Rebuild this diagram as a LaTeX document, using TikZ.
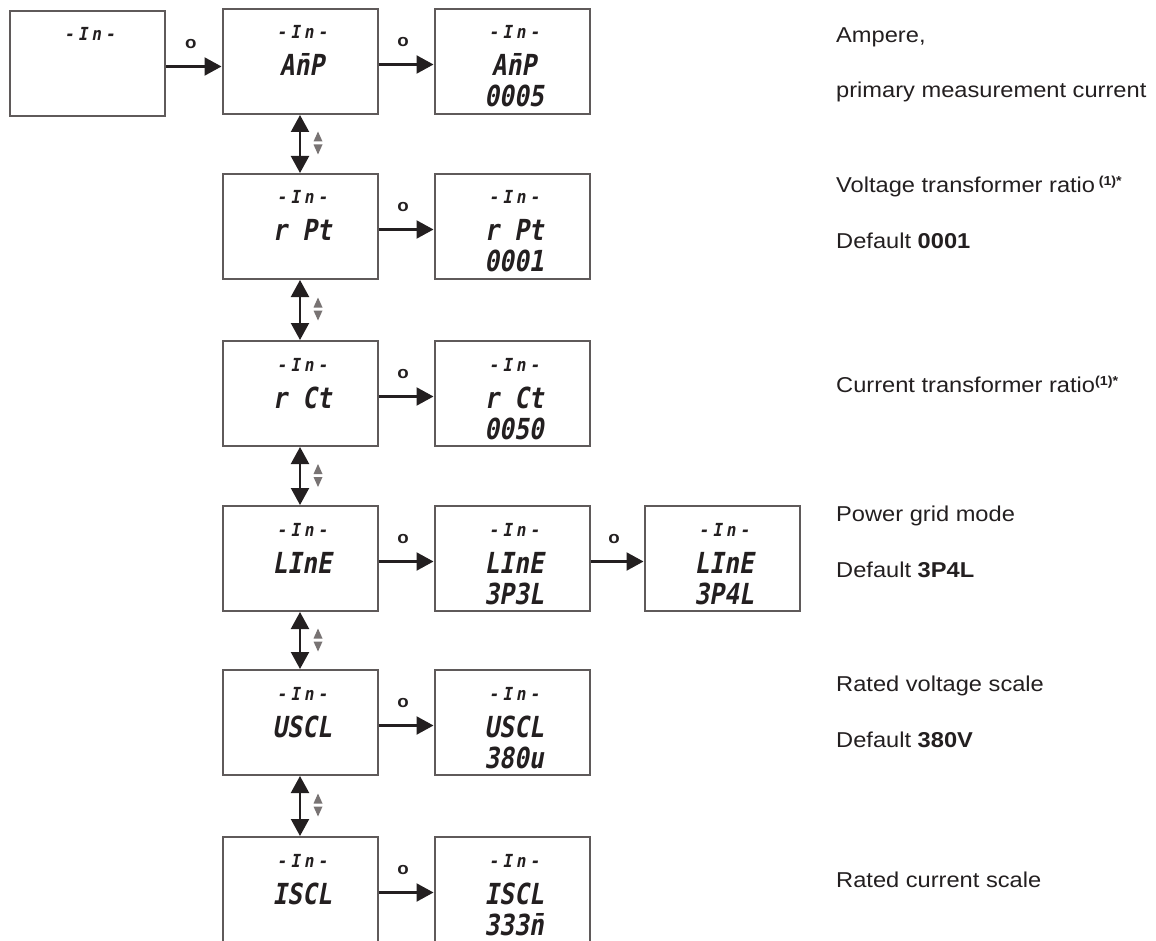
\documentclass[tikz,border=0pt]{standalone}
\usepackage{fontspec}
\setmainfont{Liberation Sans}[FakeStretch=1.1]
\newfontfamily\lcdfont{DejaVu Sans Mono Bold}[FakeSlant=0.18,FakeStretch=0.85]
\newfontfamily\lcdsmallfont{DejaVu Sans Mono Bold}[FakeSlant=0.18,FakeStretch=0.9,LetterSpace=22]
\usetikzlibrary{arrows.meta}
\definecolor{framegray}{RGB}{95,90,90}
\definecolor{ink}{RGB}{35,31,32}
\definecolor{trigray}{RGB}{120,115,115}
\tikzset{
  lcdframe/.style={draw=framegray, line width=2pt, minimum width=155pt, minimum height=105pt, inner sep=0pt, anchor=north},
  lcdsm/.style={inner sep=0pt, anchor=base, text=ink, font=\lcdsmallfont\fontsize{18}{18}\selectfont},
  lcdbig/.style={inner sep=0pt, anchor=base, text=ink, font=\lcdfont\fontsize{29}{29}\selectfont},
  arr/.style={draw=ink, line width=2.2pt, -{Triangle[length=17pt,width=18pt]}},
  darr/.style={draw=ink, line width=2.2pt, {Triangle[length=17pt,width=18pt]}-{Triangle[length=17pt,width=18pt]}},
  olab/.style={midway, xshift=-3pt, yshift=22pt, inner sep=0pt, text=ink, font=\bfseries\fontsize{17}{17}\selectfont},
  desc/.style={anchor=base west, inner sep=0pt, text=ink, font=\fontsize{21.5}{25}\selectfont},
}
\newcommand\lcdone[4]{%
  \node[lcdframe] (#1) at (#2,#3) {};
  \node[lcdsm] (#1a) at ([xshift=2pt,yshift=-31pt]#1.north) {#4};}
\newcommand\lcdtwo[5]{%
  \lcdone{#1}{#2}{#3}{#4}
  \node[lcdbig] (#1b) at ([xshift=2pt,yshift=-68pt]#1.north) {#5};}
\newcommand\lcdthree[6]{%
  \lcdtwo{#1}{#2}{#3}{#4}{#5}
  \node[lcdbig] (#1c) at ([xshift=2pt,yshift=-99pt]#1.north) {#6};}
\newcommand\updown[2]{%
  \fill[trigray] (#1-4.5,#2-1.5) -- (#1+4.5,#2-1.5) -- (#1,#2-11.5) -- cycle;
  \fill[trigray] (#1-4.5,#2+1.5) -- (#1+4.5,#2+1.5) -- (#1,#2+11.5) -- cycle;}
\newcommand\harrow[3]{%
  \coordinate (#3) at ([yshift=-3pt]#1.east);
  \draw[arr] (#3) -- (#3 -| #2.west) node[olab] (#3o) {o};}
\begin{document}
\begin{tikzpicture}[x=1pt,y=-1pt]
\useasboundingbox (0,0) rectangle (1156,941);
% row 1
\lcdone{b11}{87.5}{10}{-In-}
\lcdtwo{b12}{300}{8}{-In-}{A\=nP}
\lcdthree{b13}{512}{8}{-In-}{A\=nP}{0005}
% row 2
\lcdtwo{b21}{300}{173}{-In-}{r Pt}
\lcdthree{b22}{512}{173}{-In-}{r Pt}{0001}
% row 3
\lcdtwo{b31}{300}{340}{-In-}{r Ct}
\lcdthree{b32}{512}{340}{-In-}{r Ct}{0050}
% row 4
\lcdtwo{b41}{300}{505}{-In-}{LInE}
\lcdthree{b42}{512}{505}{-In-}{LInE}{3P3L}
\lcdthree{b43}{722}{505}{-In-}{LInE}{3P4L}
% row 5
\lcdtwo{b51}{300}{669}{-In-}{USCL}
\lcdthree{b52}{512}{669}{-In-}{USCL}{380u}
% row 6
\lcdtwo{b61}{300}{836}{-In-}{ISCL}
\lcdthree{b62}{512}{836}{-In-}{ISCL}{333\=n}
% horizontal arrows
\harrow{b11}{b12}{h1}
\harrow{b12}{b13}{h2}
\harrow{b21}{b22}{h3}
\harrow{b31}{b32}{h4}
\harrow{b41}{b42}{h5}
\harrow{b42}{b43}{h6}
\harrow{b51}{b52}{h7}
\harrow{b61}{b62}{h8}
% vertical double arrows
\draw[darr] (b12.south) -- (b21.north);
\draw[darr] (b21.south) -- (b31.north);
\draw[darr] (b31.south) -- (b41.north);
\draw[darr] (b41.south) -- (b51.north);
\draw[darr] (b51.south) -- (b61.north);
\updown{318}{143}
\updown{318}{309}
\updown{318}{475.5}
\updown{318}{640}
\updown{318}{805}
% descriptions
\node[desc] (t1) at (836,43) {Ampere,};
\node[desc] (t2) at (836,98) {primary measurement current};
\node[desc] (t3) at (836,193) {Voltage transformer ratio\,\raisebox{7pt}{\fontsize{13}{13}\selectfont\bfseries(1)*}};
\node[desc] (t4) at (836,249) {Default \textbf{0001}};
\node[desc] (t5) at (836,392) {Current transformer ratio\raisebox{7pt}{\fontsize{13}{13}\selectfont\bfseries(1)*}};
\node[desc] (t6) at (836,521) {Power grid mode};
\node[desc] (t7) at (836,577) {Default \textbf{3P4L}};
\node[desc] (t8) at (836,691) {Rated voltage scale};
\node[desc] (t9) at (836,747) {Default \textbf{380V}};
\node[desc] (t10) at (836,887) {Rated current scale};
\end{tikzpicture}
\end{document}
